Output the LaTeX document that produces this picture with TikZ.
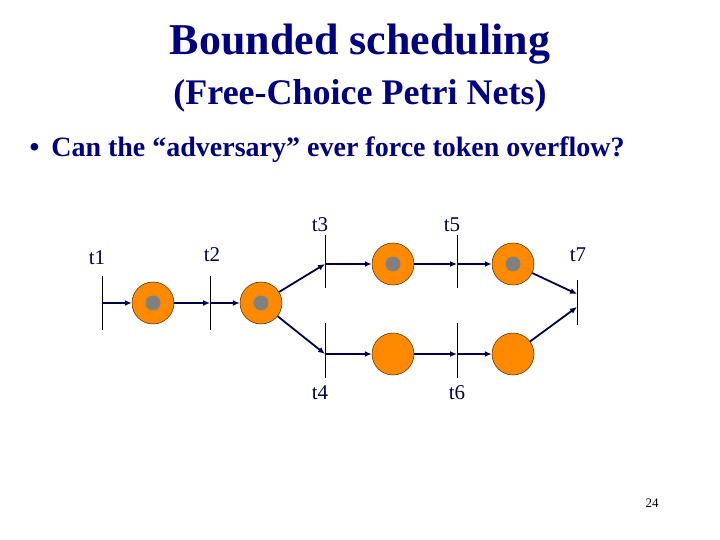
\documentclass[tikz,border=0pt]{standalone}
\usepackage{fontspec}
\setmainfont{Liberation Serif}
\usetikzlibrary{arrows.meta}
\begin{document}
\begin{tikzpicture}[x=1pt,y=-1pt,
  navy/.style={text=blue!50!black},
  trans/.style={draw=black, line width=0.7pt},
  place/.style={circle, draw=black!70!orange, fill=orange!80!yellow!90!red, minimum size=42pt, inner sep=0pt, line width=0.5pt},
  tok/.style={circle, fill=gray, minimum size=15pt, inner sep=0pt},
  arc/.style={draw=blue!30!black, line width=1.8pt, -{Latex[length=7pt,width=6pt]}},
  lab/.style={font=\fontsize{21}{23}\selectfont, text=blue!30!black}]
\useasboundingbox (0,0) rectangle (720,540);
\node[navy, font=\fontsize{44}{46}\selectfont\bfseries] (title) at (360,44) {Bounded scheduling};
\node[navy, font=\fontsize{36}{38}\selectfont\bfseries] (sub) at (360,96) {(Free-Choice Petri Nets)};
\node[navy, anchor=west, font=\fontsize{28}{30}\selectfont\bfseries] (bul) at (26,150) {•\hspace{12pt}Can the “adversary” ever force token overflow?};
\node[font=\fontsize{13}{14}\selectfont] (pg) at (652,503) {24};
% transitions
\coordinate (t1a) at (102,276); \coordinate (t1b) at (102,330);
\coordinate (t2a) at (210,276); \coordinate (t2b) at (210,330);
\coordinate (t3a) at (325,235); \coordinate (t3b) at (325,288);
\coordinate (t5a) at (457,235); \coordinate (t5b) at (457,288);
\coordinate (t4a) at (325,323); \coordinate (t4b) at (325,378);
\coordinate (t6a) at (457,323); \coordinate (t6b) at (457,378);
\coordinate (t7a) at (577,280); \coordinate (t7b) at (577,325);
\foreach \t in {t1,t2,t3,t4,t5,t6,t7} \draw[trans] (\t a) -- (\t b);
% places
\node[place] (p1) at (153,303) {}; \node[tok] at (p1) {};
\node[place] (p2) at (261,303) {}; \node[tok] at (p2) {};
\node[place] (p3) at (393,264) {}; \node[tok] at (p3) {};
\node[place] (p4) at (513,264) {}; \node[tok] at (p4) {};
\node[place] (p5) at (393,354) {};
\node[place] (p6) at (513,354) {};
% arc coordinates on transitions
\coordinate (t1o) at (102,303); \coordinate (t2i) at (210,303);
\coordinate (t3i) at (325,264); \coordinate (t4i) at (325,354);
\coordinate (t5i) at (457,264); \coordinate (t6i) at (457,354);
\coordinate (t7u) at (577,294); \coordinate (t7l) at (577,307);
\draw[arc] (t1o) -- (p1);
\draw[arc] (p1) -- (t2i);
\draw[arc] (t2i) -- (p2);
\draw[arc] (p2) -- (t3i);
\draw[arc] (p2) -- (t4i);
\draw[arc] (t3i) -- (p3);
\draw[arc] (p3) -- (t5i);
\draw[arc] (t5i) -- (p4);
\draw[arc] (t4i) -- (p5);
\draw[arc] (p5) -- (t6i);
\draw[arc] (t6i) -- (p6);
\draw[arc] (p4) -- (t7u);
\draw[arc] (p6) -- (t7l);
% labels
\node[lab] (l1) at (97,258) {t1};
\node[lab] (l2) at (212,255) {t2};
\node[lab] (l3) at (320,225) {t3};
\node[lab] (l5) at (452,225) {t5};
\node[lab] (l7) at (578,255) {t7};
\node[lab] (l4) at (320,393) {t4};
\node[lab] (l6) at (457,393) {t6};
\end{tikzpicture}
\end{document}
